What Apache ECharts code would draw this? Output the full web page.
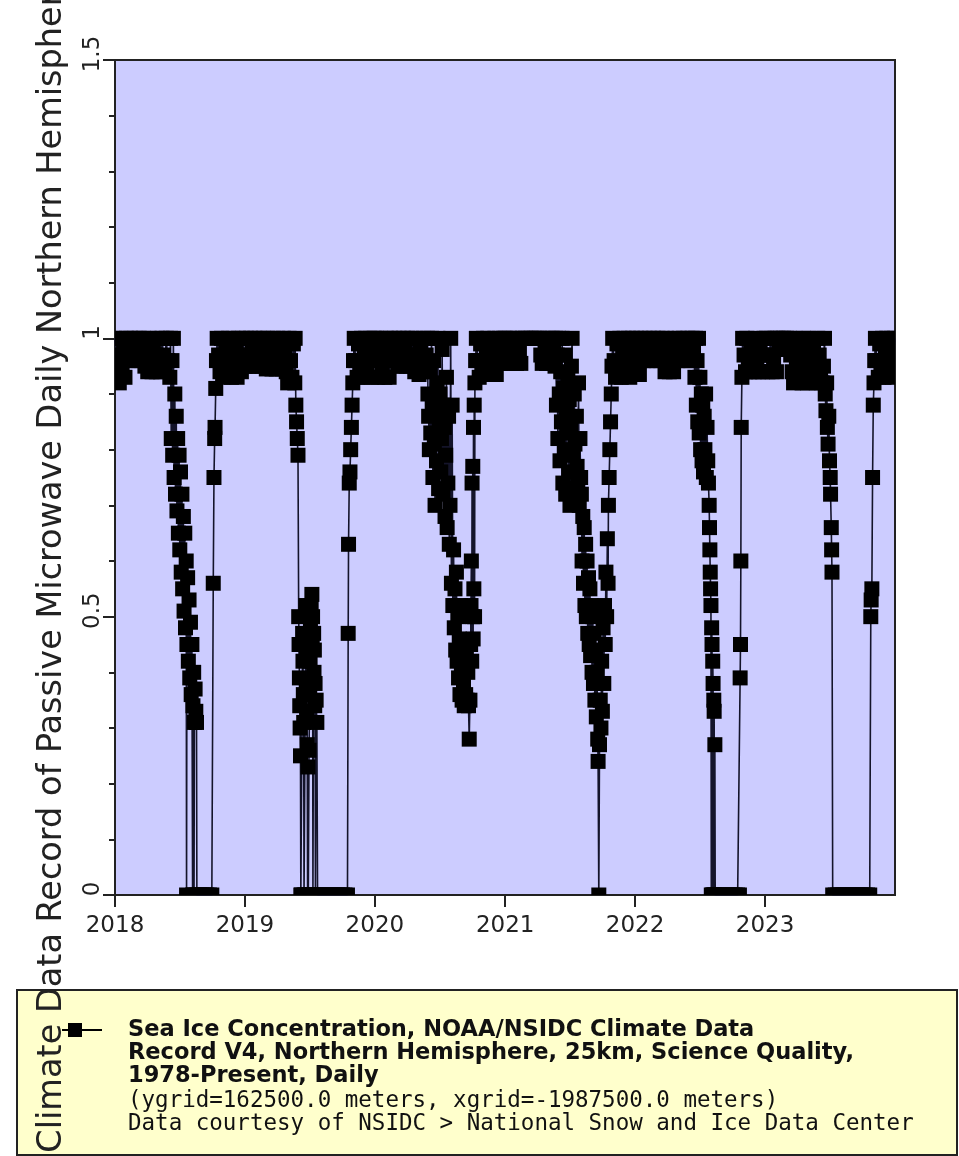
<!DOCTYPE html>
<html>
<head>
<meta charset="utf-8">
<script src="https://cdn.jsdelivr.net/npm/echarts@6/dist/echarts.min.js"></script>
<style>
html,body{margin:0;padding:0;background:#fff;}
#chart{width:959px;height:1156px;}
</style>
</head>
<body>
<div id="chart"></div>
<script>
// ---- tick labels / texts ----
const tickYears = [2018, 2019, 2020, 2021, 2022, 2023];
const yTitle = 'NOAA/NSIDC Climate Data Record of Passive Microwave Daily Northern Hemisphere Sea Ice Concentration';
const legendBold = [
  'Sea Ice Concentration, NOAA/NSIDC Climate Data',
  'Record V4, Northern Hemisphere, 25km, Science Quality,',
  '1978-Present, Daily'
];
const legendNormal = [
  '(ygrid=162500.0 meters, xgrid=-1987500.0 meters)',
  'Data courtesy of NSIDC > National Snow and Ice Data Center'
];

// ---- data: [day of year, sea ice concentration] ----
const year2018 = [[1,1],[5,.97],[9,.94],[13,.92],[17,1],[21,.95],[25,.98],[29,.93],[33,1],
[37,.96],[41,.98],[45,1],[49,.97],[53,.96],[57,1],[61,.98],[65,.96],[69,1],[73,.97],[77,.96],
[81,1],[85,.95],[89,.98],[93,.94],[97,1],[101,.96],[105,.94],[109,.99],[113,.97],[117,.94],[121,1],[125,.96],[129,.94],
[133,1],[137,.97],[141,.95],[145,1],[149,.96],
[155,.93],[157,1],[159,.82],[161,.96],[163,.79],[165,1],[167,.75],[169,.9],[171,.72],[173,.86],[175,.69],[177,.82],[179,.65],[181,.79],[183,.62],[185,.76],[187,.58],[189,.72],[191,.55],[193,.68],[195,.51],[197,.65],[199,.48],[201,.6],[202,0],[203,.45],[205,.57],[207,.42],[209,.53],[211,.39],[213,.49],[215,.36],[217,.45],[219,0],[220,.34],[222,.4],[223,0],[224,.31],[226,.37],[228,.33],[230,.31],[231,0],[238,0],[245,0],[252,0],[259,0],[266,0],[273,0],[277,.56],[279,.75],[281,.82],[282,.84],[284,.91],[286,.96],
[288,1],[292,.97],[296,.94],[300,1],[304,.93],[308,.96],[312,.99],[316,.94],[320,1],[324,.97],[328,.93],[332,1],[336,.95],[340,.98],[344,.93],[348,1],[352,.96],[356,.94],[360,1],[364,.97]];

const year2019 = [[1,.95],[5,1],[9,.97],[13,.95],[17,1],[21,.98],[25,.95],[29,1],[33,.97],[37,.95],[41,1],[45,.98],[49,.95],
[53,1],[57,.97],[61,.945],[65,1],[69,.96],[73,.98],[77,.945],[81,1],[85,.97],[89,.945],[93,1],[97,.96],[101,.98],[105,.945],
[109,1],[113,.97],[117,.94],[121,.92],[125,1],[129,.96],[133,.93],[137,.99],[141,.92],
[142,1],[144,.88],[146,.85],[148,.82],[150,.79],[152,.5],[153,.45],[154,.39],[155,.34],[156,.3],[157,.25],[158,0],[160,0],[163,.47],[164,.42],[165,.36],[166,.31],[167,0],[170,0],[172,.52],[173,.44],[174,.38],[175,.33],[176,.27],[177,0],[178,.23],[179,0],[181,.26],[183,.36],[184,.42],[185,.48],[187,.52],[189,.54],[190,.46],[191,.5],[192,0],[194,.47],[195,.4],[196,.44],[197,.34],[198,.38],[199,0],[201,.35],[203,.31],[205,0],[212,0],[219,0],[226,0],[233,0],[240,0],[247,0],[254,0],[261,0],[268,0],[275,0],[282,0],[289,0],[291,.47],[292,.63],[294,.74],[296,.76],[298,.8],[300,.84],[302,.88],[304,.92],[306,.96],
[308,1],[312,.96],[316,.93],[320,.99],[324,.95],[328,1],[332,.93],[336,.97],[340,1],[344,.94],[348,.96],[352,1],[356,.93],[360,.98],[364,1]];

const year2020 = [[1,.96],[5,1],[9,.93],[13,.97],[17,1],[21,.94],[25,.98],[29,.93],[33,1],[37,.96],[41,.93],
[45,1],[49,.98],[53,.97],[57,1],[61,.98],
[65,.95],[69,1],[73,.97],[77,.95],[81,1],[85,.98],[89,.95],[93,1],[97,.97],[101,.95],[105,1],[109,.97],
[113,.94],[117,1],[121,.96],[125,.935],[129,.99],[133,.95],[137,1],[141,.94],[145,.97],[149,1],
[150,.9],[152,.86],[154,.8],[156,.94],[158,.83],[160,1],[162,.88],[164,.75],[166,.96],[168,.81],[170,.7],[172,.87],[174,.78],[176,.92],[178,1],[180,.73],[182,.85],[184,.9],[186,.76],[188,.82],[190,.98],[192,.72],[194,.88],[196,.84],[198,.68],[200,.79],[202,.93],[204,.66],[206,.74],[208,.86],[210,.63],[212,.7],[214,1],
[216,.56],[218,.88],[220,.52],[222,.62],[224,.48],[226,.55],[228,.44],[230,.58],[232,.42],[234,.5],[236,.39],[238,.46],[240,.36],[242,.52],[244,.4],[246,.35],[248,.45],[250,.38],[252,.34],[254,.42],[256,.36],[258,.44],[260,.35],[262,.4],[264,.34],[266,.28],[268,.35],[270,.45],[271,.52],[272,.6],[273,.42],[274,.74],[275,.5],[276,.77],[277,.46],[278,.84],[279,.55],[280,.88],[281,.5],[282,.92],[284,.96],
[286,1],[290,.96],[294,.93],[298,.99],[302,.95],[306,1],[310,.935],[314,.97],[318,1],[322,.95],[326,.935],[330,.99],[334,.96],[338,1],[342,.935],[346,.97],[350,1],[354,.955],[358,.98],[362,1],[366,.96]];

const year2021 = [[1,1],[5,.97],[9,.955],[13,1],[17,.98],[21,.955],[25,1],[29,.97],[33,.955],[37,1],[41,.98],[45,.955],
[50,1],[58,1],[66,1],[74,1],[82,1],[90,1],[98,1],
[101,.97],[105,.955],[109,1],[113,.98],[117,.955],[121,1],[125,.97],[129,.955],[133,1],[137,.98],
[141,.95],[143,1],[145,.88],[147,.97],[149,.82],[151,1],[153,.9],[155,.78],[157,.94],[159,.85],[161,1],[163,.74],[165,.91],[167,.8],[169,.97],[171,.72],[173,.87],[175,.83],[177,.93],[179,.76],[181,.89],[183,.7],[185,.84],[187,.95],[189,1],[191,.79],[193,.73],[195,.9],[197,.81],[199,.71],[201,.86],[203,.77],[205,.74],[207,.92],[209,.7],[211,.82],[213,.75],
[215,.72],[217,.6],[219,.68],[221,.56],[223,.66],[225,.52],[227,.63],[229,.5],[231,.6],[233,.47],[235,.57],[237,.45],[239,.55],[241,.43],[243,.52],[245,.4],[247,.5],[249,.38],[251,.47],[253,.35],[255,.44],[257,.32],[259,.4],[261,.28],[262,.24],[264,0],[266,.27],[268,.35],[270,.3],[272,.42],[274,.33],[276,.48],[278,.38],[280,.52],[282,.45],[284,.58],[286,.5],[288,.64],[290,.56],[291,.7],[293,.75],[295,.8],[297,.85],[299,.9],[301,.95],
[303,1],[307,.96],[311,.93],[315,.99],[319,.95],[323,1],[327,.93],[331,.97],[335,1],[339,.94],[343,.96],[347,1],[351,.93],[355,.98],[359,1],[363,.95]];

const year2022 = [[1,.94],[5,1],[9,.97],[13,.935],[17,1],
[21,.98],[25,.96],[29,1],[33,.97],[37,.96],[41,1],[45,.98],[49,.96],[53,1],[57,.97],[61,.96],[65,1],[69,.98],[73,.96],
[77,1],[81,.97],[85,.94],[89,1],[93,.96],[97,.94],[101,.99],[105,.96],[109,.94],
[113,1],[117,.98],[121,.96],[125,1],[129,.97],[133,.96],[137,1],[141,.98],[145,.96],[149,1],[153,.97],[157,.96],[161,1],[165,.98],
[169,.93],[171,1],[173,.88],[175,.96],[177,.85],[179,1],[181,.83],[183,.93],[185,.8],[187,.9],[189,.78],[191,.88],[193,.76],[195,.86],[197,.8],[199,.9],[201,.75],[203,.84],[205,.78],[207,.74],[209,.7],[210,.66],[211,.62],[212,.58],[213,.55],[214,.52],[215,0],[216,.48],[217,.45],[218,0],[219,.42],[220,.38],[221,0],[222,.35],[223,.33],[224,0],[225,.27],[226,0],[233,0],[240,0],[247,0],[254,0],[261,0],[268,0],[275,0],[282,0],[289,0],[294,0],[296,.39],[297,.45],[298,.6],[299,.84],[301,.93],
[303,1],[307,.97],[311,.94],[315,1],[319,.96],[323,.94],[327,.99],[331,.97],[335,.94],[339,1],[343,.96],[347,.94],[351,.99],[355,.97],[359,.94],[363,1]];

const year2023 = [[1,.97],[5,1],[9,.94],[13,.97],[17,1],[21,.94],[25,.96],[29,1],[33,.94],
[37,1],[41,.98],[45,1],[49,.98],[53,1],[57,.98],[61,1],[65,.98],
[69,1],[73,.97],[77,.94],[81,.92],[85,1],[89,.96],[93,.93],[97,.99],[101,.95],[105,.92],[109,1],[113,.97],[117,.94],[121,.92],[125,1],[129,.96],[133,.93],[137,.99],[141,.95],[145,.92],[149,1],[153,.97],[157,.94],[161,.92],
[165,.95],[168,1],[170,.9],[172,.87],[174,.92],[176,.84],[178,.81],[180,.86],[182,.78],[184,.75],[185,.72],[187,.66],[188,.62],[189,.58],[191,0],[198,0],[205,0],[212,0],[219,0],[226,0],[233,0],[240,0],[247,0],[254,0],[261,0],[268,0],[275,0],[282,0],[289,0],[295,0],[298,.5],[299,.53],[301,.55],[303,.75],[305,.88],[307,.92],[309,.96],
[311,1],[315,.96],[319,.93],[323,.99],[327,.95],[331,1],[335,.93],[339,.97],[343,1],[347,.94],[351,.96],[355,1],[359,.93],[363,.98],[365,1]];

// ---- build series data ----
const yearBlocks = [[2018, year2018], [2019, year2019], [2020, year2020], [2021, year2021], [2022, year2022], [2023, year2023]];
const points = [];
yearBlocks.forEach(function (b) {
  b[1].forEach(function (p) { points.push([Date.UTC(b[0], 0, p[0]), p[1]]); });
});
const yearTickValues = tickYears.map(function (y) { return Date.UTC(y, 0, 1); });

const MARK = 15;
const FONT = 'DejaVu Sans';

const chart = echarts.init(document.getElementById('chart'), null, {renderer: 'canvas'});

const legendEls = [
  {type: 'rect', z: -5, shape: {x: 17, y: 990, width: 940, height: 165}, style: {fill: '#ffffcc', stroke: '#222', lineWidth: 2}},
  {type: 'line', z: 5, shape: {x1: 62, y1: 1030, x2: 102, y2: 1030}, style: {stroke: '#000', lineWidth: 2}},
  {type: 'rect', z: 5, shape: {x: 68, y: 1023, width: 14, height: 14}, style: {fill: '#000'}}
];
const lineYs = [1030, 1053, 1076, 1101, 1124];
legendBold.forEach(function (t, i) {
  legendEls.push({type: 'text', z: 5, style: {text: t, x: 128, y: lineYs[i], fill: '#111', font: 'bold 22.5px "' + FONT + '"', verticalAlign: 'middle'}});
});
legendNormal.forEach(function (t, i) {
  legendEls.push({type: 'text', z: 5, style: {text: t, x: 128, y: lineYs[3 + i], fill: '#111', font: '22.5px "DejaVu Sans Mono"', verticalAlign: 'middle'}});
});

const option = {
  animation: false,
  backgroundColor: '#ffffff',
  textStyle: {fontFamily: FONT},
  grid: {left: 115, top: 60, width: 780, height: 835, show: true, backgroundColor: '#ccccff',
         borderColor: '#222', borderWidth: 2, containLabel: false, outerBoundsMode: 'none'},
  xAxis: {
    type: 'value',
    min: Date.UTC(2018, 0, 1),
    max: Date.UTC(2024, 0, 1),
    axisLine: {show: true, onZero: false, lineStyle: {color: '#222', width: 2}},
    axisTick: {show: true, customValues: yearTickValues, length: 12, lineStyle: {color: '#222', width: 2}},
    axisLabel: {customValues: yearTickValues, fontSize: 23, color: '#222', margin: 20, fontFamily: FONT,
      formatter: function (v) { return String(new Date(v).getUTCFullYear()); }},
    splitLine: {show: false}
  },
  yAxis: {
    type: 'value', min: 0, max: 1.5, interval: 0.5,
    name: yTitle, nameLocation: 'middle', nameGap: 46, nameRotate: 90,
    nameTextStyle: {fontSize: 33.5, color: '#222', fontFamily: FONT, padding: [0, 15, 0, 0]},
    axisLine: {show: true, lineStyle: {color: '#222', width: 2}},
    axisTick: {show: true, length: 12, lineStyle: {color: '#222', width: 2}},
    minorTick: {show: true, splitNumber: 5, length: 6, lineStyle: {color: '#222', width: 2}},
    axisLabel: {rotate: 90, fontSize: 23, color: '#222', margin: 10, fontFamily: FONT, padding: [0, 0, 0, 12]},
    splitLine: {show: false},
    minorSplitLine: {show: false}
  },
  series: [
    {type: 'line', data: points, showSymbol: false, symbol: 'none', clip: true, z: 2, silent: true,
     lineStyle: {color: '#14142a', width: 1.6}},
    {type: 'custom', data: points, clip: true, z: 3, silent: true, encode: {x: 0, y: 1},
     renderItem: function (params, api) {
       const p = api.coord([api.value(0), api.value(1)]);
       const cs = params.coordSys;
       const r = echarts.graphic.clipRectByRect(
         {x: p[0] - MARK / 2, y: p[1] - MARK / 2, width: MARK, height: MARK},
         {x: cs.x, y: cs.y, width: cs.width, height: cs.height});
       if (!r) return null;
       return {type: 'rect', shape: r, style: {fill: '#000'}};
     }}
  ],
  graphic: {elements: legendEls}
};
chart.setOption(option);
</script>
</body>
</html>
